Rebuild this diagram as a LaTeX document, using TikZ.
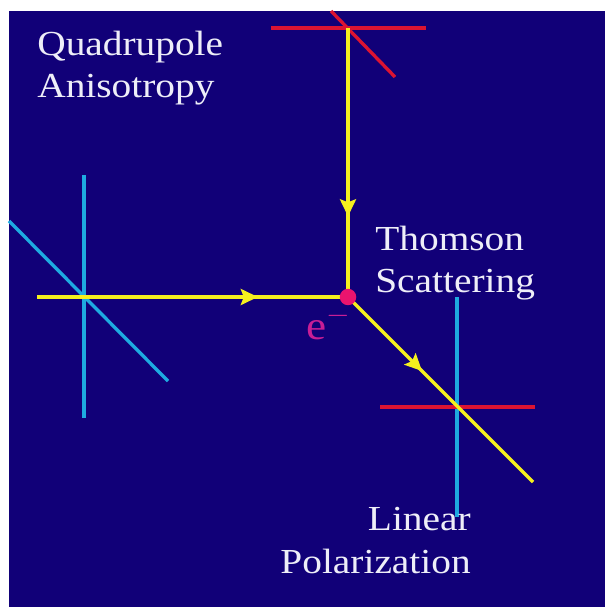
\documentclass[tikz,border=0pt]{standalone}
\usepackage{fontspec}
\newfontfamily\slidefont{Liberation Serif}[FakeStretch=1.12]
\usetikzlibrary{arrows.meta,decorations.markings}

\begin{document}
\begin{tikzpicture}[
  x=0.02cm, y=-0.02cm,
  every node/.style={inner sep=0pt},
  caption/.style={font=\slidefont\fontsize{20}{24.4}\selectfont, text=slidetext},
  ray/.style={color=rayyellow, line width=2pt, postaction={decorate},
              decoration={markings, mark=at position #1 with
                {\arrow{Stealth[length=3.4mm, width=3.2mm, inset=0.6mm]}}}},
  pol/.style={draw=#1, line width=1.9pt},
  dot/.style={circle, fill=dotpink, minimum size=3.3mm},
]

% ── Colours ──
\definecolor{slideblue}{RGB}{17,0,120}
\definecolor{slidetext}{RGB}{238,238,248}
\definecolor{rayyellow}{RGB}{245,240,30}
\definecolor{polred}{RGB}{220,20,50}
\definecolor{polcyan}{RGB}{30,170,225}
\definecolor{dotpink}{RGB}{235,20,110}
\definecolor{elabel}{RGB}{200,30,150}

% ── Background ──
\fill[white] (0,0) rectangle (605,607);
\fill[slideblue] (9,11) rectangle (605,607);

% ── Points ──
\coordinate (scat) at (348,297);
\coordinate (top)  at (348,28);
\coordinate (left) at (84,297);
\coordinate (out)  at (457,407);
\coordinate (src)  at (37,297);
\coordinate (end)  at (533,482);

% ── Polarization crosses ──
\draw[pol=polred] ([shift={(-77,0)}]top) -- ([shift={(78,0)}]top);
\draw[pol=polred] (331,11) -- (395,77);
\draw[pol=polcyan] ([shift={(0,-122)}]left) -- ([shift={(0,121)}]left);
\draw[pol=polcyan] (9,221) -- (168,381);
\draw[pol=polcyan] ([shift={(0,-110)}]out) -- ([shift={(0,110)}]out);
\draw[pol=polred] ([shift={(-77,0)}]out) -- ([shift={(78,0)}]out);

% ── Rays ──
\draw[ray=0.70] (top) -- (scat);
\draw[ray=0.71] (src) -- (scat);
\draw[ray=0.40] (scat) -- (end);

% ── Electron ──
\node[dot] (electron) at (scat) {};
\node[font=\slidefont\fontsize{23}{26}\selectfont, text=elabel, anchor=base west]
  (elab) at (306,339) {e$^-$};

% ── Labels ──
\node[caption, align=left, anchor=base west] (quad) at (37,98)
  {Quadrupole\\Anisotropy};
\node[caption, align=left, anchor=base west] (thom) at (375,293)
  {Thomson\\Scattering};
\node[caption, align=right, anchor=base east] (lin) at (471,573)
  {Linear\\Polarization};

\end{tikzpicture}
\end{document}
